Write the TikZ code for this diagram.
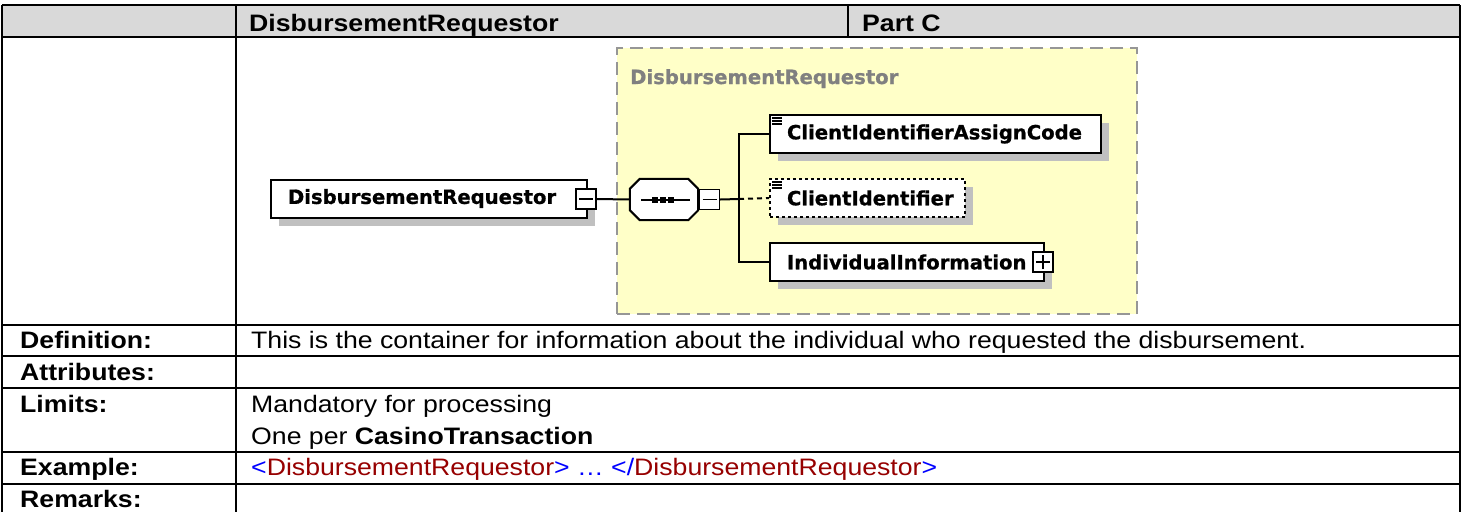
\documentclass[tikz,border=0pt]{standalone}
\usepackage{fontspec}
\setmainfont{Liberation Sans}[FakeStretch=1.12]
\newfontfamily\xsdfont{DejaVu Sans}[BoldFeatures={FakeBold=0.8}]
\usetikzlibrary{calc}

\definecolor{hdrgray}{RGB}{217,217,217}
\definecolor{seqyellow}{RGB}{255,255,200}
\definecolor{framegray}{RGB}{150,150,150}
\definecolor{titlegray}{RGB}{128,128,128}
\definecolor{shadowgray}{RGB}{192,192,192}
\definecolor{tagblue}{RGB}{0,0,255}
\definecolor{tagred}{RGB}{150,0,0}

\begin{document}
\begin{tikzpicture}[x=1pt,y=-1pt,
  rule/.style={line width=2.5pt, black},
  cell/.style={anchor=base west, inner sep=0pt, font=\fontsize{23.8}{28}\selectfont},
  lbl/.style={anchor=base west, inner sep=0pt, font=\fontsize{23.8}{28}\selectfont\bfseries},
  xsd/.style={font=\xsdfont\bfseries\fontsize{19.6}{22}\selectfont},
  elem/.style={xsd, draw, line width=2pt, fill=white, anchor=west,
    minimum height=38pt, inner xsep=17pt, inner ysep=0pt,
    text width=#1, align=left,
    preaction={fill=shadowgray, transform canvas={xshift=8pt,yshift=-8pt}}},
  expander/.style={draw, line width=1.3pt, fill=white, minimum size=20pt,
    inner sep=0pt},
  sign/.style={line width=1.5pt},
  conn/.style={line width=2pt},
  icon/.style={line width=1.1pt},
]
\useasboundingbox (0,0) rectangle (1463,512);

% ---------- table ----------
\fill[hdrgray] (2,5) rectangle (1460,37);
\foreach \yy in {5,37,325,356,388,452,484}
  \draw[rule] (2,\yy) -- (1460,\yy);
\draw[rule] (2,5) -- (2,512);
\draw[rule] (1460,5) -- (1460,512);
\draw[rule] (236,5) -- (236,512);
\draw[rule] (848,5) -- (848,37);

\node[lbl] (hname) at (249,31) {DisbursementRequestor};
\node[lbl] (hpart) at (862,31) {Part C};

\node[lbl] (ldef) at (20,348.5) {Definition:};
\node[lbl] (lattr) at (20,380.5) {Attributes:};
\node[lbl] (llim) at (20,412.5) {Limits:};
\node[lbl] (lex) at (20,475.5) {Example:};
\node[lbl] (lrem) at (20,507) {Remarks:};

\node[cell] (vdef) at (251,348.5) {This is the container for information about the individual who requested the disbursement.};
\node[cell] (vlim1) at (251,412.5) {Mandatory for processing};
\node[cell] (vlim2) at (251,444.5) {One per \textbf{CasinoTransaction}};
\node[cell] (vex) at (251,475.5) {\textcolor{tagblue}{<}\textcolor{tagred}{DisbursementRequestor}\textcolor{tagblue}{> … </}\textcolor{tagred}{DisbursementRequestor}\textcolor{tagblue}{>}};

% ---------- schema diagram ----------
% sequence group frame
\node[draw=framegray, fill=seqyellow, line width=2pt, dash pattern=on 13pt off 7pt,
      minimum width=520pt, minimum height=266pt, inner sep=0pt] (grp) at (877,181) {};
\node[xsd, text=titlegray, anchor=base west, inner sep=0pt] (grptitle) at (630,84) {DisbursementRequestor};

% root element
\node[elem=282pt] (root) at (270,198.5) {DisbursementRequestor};
\node[expander] (m0) at (586,199) {};
\draw[sign] ([xshift=-7pt]m0.center) -- ([xshift=7pt]m0.center);

% sequence compositor
\node[minimum width=68pt, minimum height=41pt, inner sep=0pt] (seq) at (664,199.5) {};
\fill[shadowgray, shift={(8,8)}]
  ($(seq.north west)+(10,0)$) -- ($(seq.north east)+(-10,0)$) -- ($(seq.north east)+(0,10)$)
  -- ($(seq.south east)+(0,-10)$) -- ($(seq.south east)+(-10,0)$) -- ($(seq.south west)+(10,0)$)
  -- ($(seq.south west)+(0,-10)$) -- ($(seq.north west)+(0,10)$) -- cycle;
\draw[conn, fill=white]
  ($(seq.north west)+(10,0)$) -- ($(seq.north east)+(-10,0)$) -- ($(seq.north east)+(0,10)$)
  -- ($(seq.south east)+(0,-10)$) -- ($(seq.south east)+(-10,0)$) -- ($(seq.south west)+(10,0)$)
  -- ($(seq.south west)+(0,-10)$) -- ($(seq.north west)+(0,10)$) -- cycle;
\draw[conn] ($(seq.center)+(-23,0)$) -- ($(seq.center)+(26,0)$);
\foreach \dx in {-9,-1,7}
  \fill ($(seq.center)+(\dx-3,-3)$) rectangle ($(seq.center)+(\dx+3,3)$);
\node[expander] (m1) at (709.5,199.5) {};
\draw[sign] ([xshift=-7pt]m1.center) -- ([xshift=7pt]m1.center);

% child elements
\node[elem=297pt] (c1) at (769,134) {ClientIdentifierAssignCode};
\node[elem=161pt, dashed] (c2) at (769,198) {ClientIdentifier};
\node[elem=240pt] (c3) at (769,262) {IndividualInformation};
\node[expander] (p3) at (1043,262) {};
\draw[sign] ([xshift=-7pt]p3.center) -- ([xshift=7pt]p3.center)
            ([yshift=-7pt]p3.center) -- ([yshift=7pt]p3.center);

% simple-type markers
\foreach \n in {c1,c2}
  \foreach \dy in {4,7,10}
    \draw[icon] ($(\n.north west)+(3,\dy)$) -- ++(9.5,0);

% connectors
\coordinate (branch) at (739,199);
\draw[conn] (m0.east) -- (seq.west);
\draw[conn] (m1.east) -- (branch);
\draw[conn] (c1.west) -- ++(-30,0) |- (c3.west);
\draw[conn, dash pattern=on 5pt off 4pt] (branch) -- (c2.west);
\end{tikzpicture}
\end{document}
